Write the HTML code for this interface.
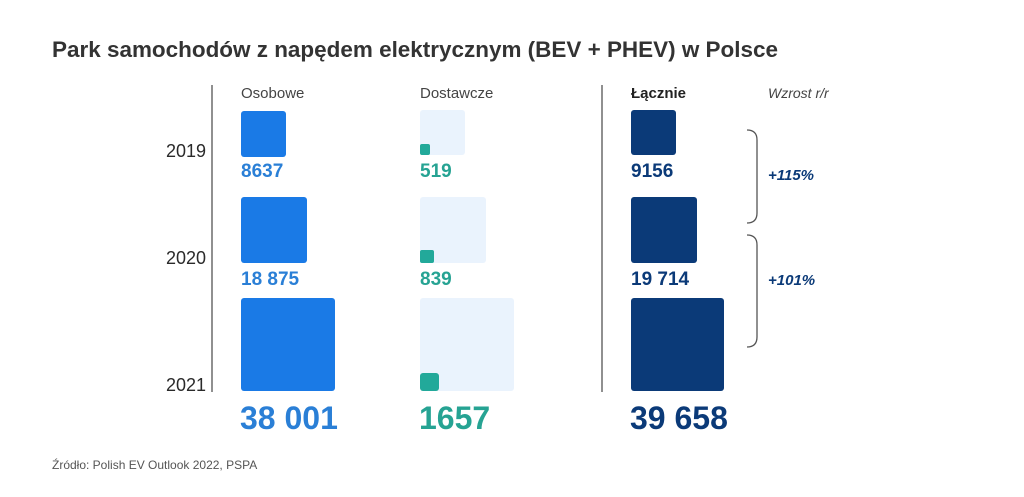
<!DOCTYPE html>
<html><head><meta charset="utf-8"><style>
html,body{margin:0;padding:0;background:#fff;}
svg{display:block;font-family:"Liberation Sans",sans-serif;}
</style></head><body>
<svg width="1024" height="497" viewBox="0 0 1024 497">
<rect width="1024" height="497" fill="#fff"/>
<text x="52" y="57" font-size="22.5" font-weight="bold" fill="#333" textLength="726" lengthAdjust="spacingAndGlyphs">Park samochodów z napędem elektrycznym (BEV + PHEV) w Polsce</text>
<line x1="212" y1="85" x2="212" y2="392" stroke="#555" stroke-width="1.3"/>
<line x1="602" y1="85" x2="602" y2="392" stroke="#555" stroke-width="1.3"/>
<g font-size="18" fill="#2a2a2a" text-anchor="end">
<text x="206" y="157">2019</text>
<text x="206" y="264">2020</text>
<text x="206" y="391">2021</text>
</g>
<text x="241" y="98" font-size="15" fill="#444">Osobowe</text>
<text x="420" y="98" font-size="15" fill="#444">Dostawcze</text>
<text x="631" y="98" font-size="15" font-weight="bold" fill="#222">Łącznie</text>
<text x="768" y="98" font-size="14" font-style="italic" fill="#444">Wzrost r/r</text>
<g fill="#1a7ae6">
<rect x="241" y="111" width="45" height="46" rx="3"/>
<rect x="241" y="197" width="66" height="66" rx="3"/>
<rect x="241" y="298" width="94" height="93" rx="3"/>
</g>
<g fill="#eaf3fd">
<rect x="420" y="110" width="45" height="45" rx="3"/>
<rect x="420" y="197" width="66" height="66" rx="3"/>
<rect x="420" y="298" width="94" height="93" rx="3"/>
</g>
<g fill="#22a99a">
<rect x="420" y="144" width="10" height="11" rx="2"/>
<rect x="420" y="250" width="14" height="13" rx="2"/>
<rect x="420" y="373" width="19" height="18" rx="3"/>
</g>
<g fill="#0b3a78">
<rect x="631" y="110" width="45" height="45" rx="3"/>
<rect x="631" y="197" width="66" height="66" rx="3"/>
<rect x="631" y="298" width="93" height="93" rx="3"/>
</g>
<g font-size="19" font-weight="bold">
<text x="241" y="177" fill="#2a7fd6">8637</text>
<text x="241" y="285" fill="#2a7fd6">18 875</text>
<text x="420" y="177" fill="#26a393">519</text>
<text x="420" y="285" fill="#26a393">839</text>
<text x="631" y="177" fill="#0b3a78">9156</text>
<text x="631" y="285" fill="#0b3a78">19 714</text>
</g>
<g font-size="32" font-weight="bold">
<text x="240" y="429" fill="#2a7fd6">38 001</text>
<text x="419" y="429" fill="#26a393">1657</text>
<text x="630" y="429" fill="#0b3a78">39 658</text>
</g>
<g fill="none" stroke="#555" stroke-width="1.3">
<path d="M747 130 Q757 130 757 140 L757 213 Q757 223 747 223"/>
<path d="M747 235 Q757 235 757 245 L757 337 Q757 347 747 347"/>
</g>
<g font-size="15" font-weight="bold" font-style="italic" fill="#0b3a78">
<text x="768" y="180">+115%</text>
<text x="768" y="285">+101%</text>
</g>
<text x="52" y="469" font-size="12" fill="#555">Źródło: Polish EV Outlook 2022, PSPA</text>
</svg>
</body></html>
